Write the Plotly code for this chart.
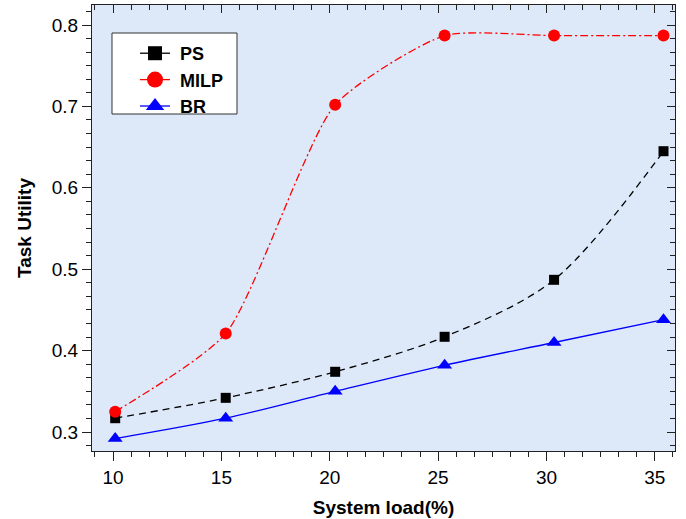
import plotly.graph_objects as go

load = [10.1, 15.2, 20.25, 25.3, 30.35, 35.4]
ps = [0.317, 0.342, 0.374, 0.417, 0.487, 0.645]
milp = [0.325, 0.421, 0.702, 0.787, 0.787, 0.787]
br = [0.292, 0.317, 0.350, 0.382, 0.410, 0.438]

x_ticks = [10, 15, 20, 25, 30, 35]
y_ticks = [0.3, 0.4, 0.5, 0.6, 0.7, 0.8]

FONT = "Liberation Sans, Arial, sans-serif"

series = [
    ("PS", ps, "black", "7px,5px", 0.9, "square", 10, 14),
    ("MILP", milp, "red", "8px,3px,2px,3px", 0.6, "circle", 12, 16),
    ("BR", br, "blue", "solid", 0.9, "triangle-up", 13, 16),
]

fig = go.Figure()
for name, vals, color, dash, sm, sym, msize, lsize in series:
    fig.add_trace(go.Scatter(
        x=load, y=vals, name=name, mode="lines+markers", showlegend=False,
        line=dict(color=color, width=1.3, dash=dash, shape="spline", smoothing=sm),
        marker=dict(symbol=sym, size=msize, color=color)))
for name, vals, color, dash, sm, sym, msize, lsize in series:
    # legend entry (larger symbol, as in the reference legend)
    fig.add_trace(go.Scatter(
        x=[None], y=[None], name="\u00a0" + name, mode="lines+markers",
        line=dict(color=color, width=1.3, dash="solid"),
        marker=dict(symbol=sym, size=lsize, color=color)))
# invisible trace for the mirrored (top/right) axes
fig.add_trace(go.Scatter(x=[load[0]], y=[br[0]], xaxis="x2", yaxis="y2",
                         mode="markers", marker=dict(opacity=0), showlegend=False,
                         hoverinfo="skip"))

xr = [9.03, 35.93]
yr = [0.2767, 0.8246]

tick_common = dict(showgrid=False, zeroline=False, tickcolor="#222", tickwidth=1.3,
                   automargin=False)

fig.update_layout(
    width=686, height=519,
    margin=dict(l=92, r=11, t=5, b=68),
    paper_bgcolor="white", plot_bgcolor="#dde9f9",
    font=dict(family=FONT, size=19, color="black"),
    xaxis=dict(range=xr, tickvals=x_ticks, ticks="outside", ticklen=9,
               minor=dict(dtick=5/6, tick0=10, ticks="outside", ticklen=5,
                          tickcolor="#222", tickwidth=1.3),
               title=dict(text="<b>System load(%)</b>", font=dict(size=19), standoff=13),
               mirror=True, linecolor="#222", linewidth=1.3, **tick_common),
    yaxis=dict(range=yr, tickvals=y_ticks, ticks="outside", ticklen=9,
               tickformat=".1f",
               minor=dict(dtick=0.1/6, tick0=0.3, ticks="outside", ticklen=5,
                          tickcolor="#222", tickwidth=1.3),
               title=dict(text="<b>Task Utility</b>", font=dict(size=19), standoff=14),
               mirror=True, linecolor="#222", linewidth=1.3, **tick_common),
    xaxis2=dict(range=xr, overlaying="x", side="top", tickvals=x_ticks,
                ticks="inside", ticklen=8, showticklabels=False,
                minor=dict(dtick=5/6, tick0=10, ticks="inside", ticklen=5,
                           tickcolor="#222", tickwidth=1.3),
                showline=False, **tick_common),
    yaxis2=dict(range=yr, overlaying="y", side="right", tickvals=y_ticks,
                ticks="inside", ticklen=8, showticklabels=False,
                minor=dict(dtick=0.1/6, tick0=0.3, ticks="inside", ticklen=5,
                           tickcolor="#222", tickwidth=1.3),
                showline=False, **tick_common),
    legend=dict(x=0.0738, y=0.9327, xanchor="left", yanchor="top",
                bgcolor="rgba(0,0,0,0)", borderwidth=0,
                font=dict(size=18, family=FONT, weight="bold"),
                itemsizing="trace", tracegroupgap=0),
    showlegend=True,
    shapes=[dict(type="rect", xref="paper", yref="paper",
                 x0=0.0343, x1=0.2487, y0=0.7556, y1=0.9372,
                 fillcolor="white", line=dict(color="#333", width=1),
                 layer="above")],
)

fig.write_html("out.html", config={"displayModeBar": False},
               post_script="document.body.style.margin='0';")
